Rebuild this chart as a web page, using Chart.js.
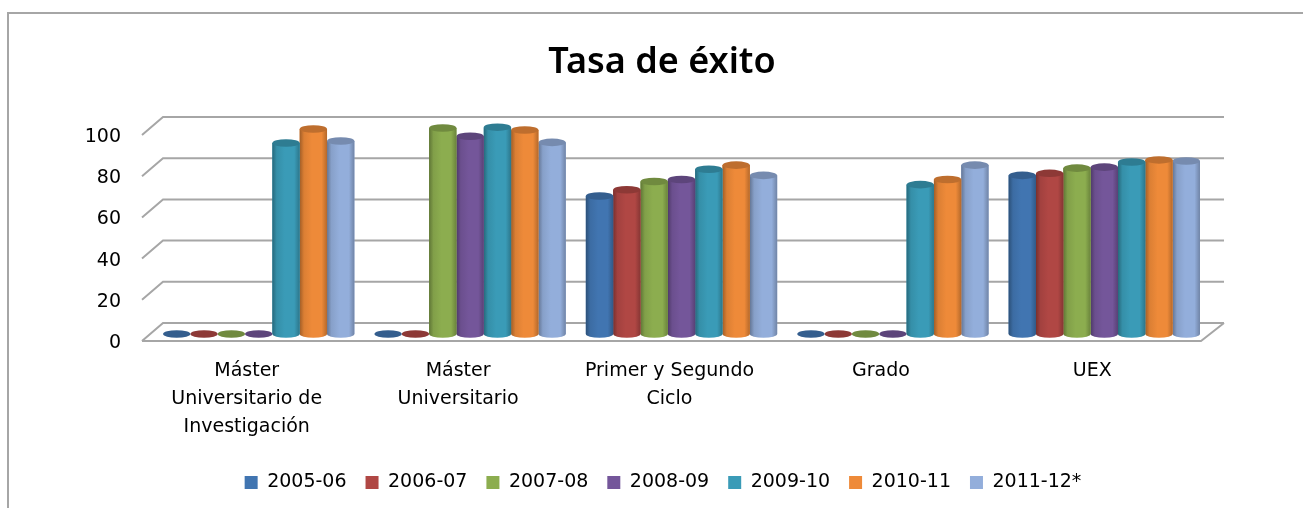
<!DOCTYPE html>
<html><head><meta charset="utf-8">
<script src="https://cdn.jsdelivr.net/npm/chart.js@4"></script>
<style>html,body{margin:0;padding:0;background:#fff}#w{width:1303px;height:508px;position:relative}</style>
</head><body><div id="w"><canvas id="c" width="1303" height="508"></canvas></div>
<script>
const categories = [["Máster","Universitario de","Investigación"],["Máster","Universitario"],["Primer y Segundo","Ciclo"],"Grado","UEX"];
const seriesNames = ["2005-06","2006-07","2007-08","2008-09","2009-10","2010-11","2011-12*"];
const s200506 = [0,0,67,0,77];
const s200607 = [0,0,70,0,78];
const s200708 = [0,100,74,0,80.5];
const s200809 = [0,96,75,0,81];
const s200910 = [92.7,100.4,80,72.5,83.5];
const s201011 = [99.5,99,82,75,84.5];
const s201112 = [93.7,93,77,82,84];
const seriesValues = [s200506,s200607,s200708,s200809,s200910,s201011,s201112];
const colors = ["#4175b1","#b04744","#8cad4f","#74569a","#3a9bb7","#ee8a39","#93aedb"];
const yTicks = [0,20,40,60,80,100];
const font = "'DejaVu Sans'";
const titleFont = "'Noto Sans'";

function shade(hex,f){
  const n=parseInt(hex.slice(1),16),r=n>>16,g=(n>>8)&255,b=n&255;
  const m=v=>Math.round(f<1?v*f:v+(255-v)*(f-1));
  return `rgb(${m(r)},${m(g)},${m(b)})`;
}
const depth = {dy:11};
const frame = {
  id:'frame',
  afterLayout(chart){
    const lg=chart.legend,h=lg.height,t=chart.titleBlock;
    lg.left+=58;lg.right+=58;
    lg.top=478-h/2;lg.bottom=lg.top+h;
    t.left+=57;t.right+=57;
  },
  beforeDatasetsDraw(chart){
    const {ctx,scales:{y}}=chart;
    const L=163,R=1224,FL=142,FR=1201;
    ctx.save();
    ctx.strokeStyle='#a6a6a6';ctx.lineWidth=2;
    ctx.beginPath();ctx.moveTo(8,508);ctx.lineTo(8,13);ctx.lineTo(1303,13);ctx.stroke();
    yTicks.forEach(v=>{
      const py=y.getPixelForValue(v)-depth.dy;
      ctx.beginPath();ctx.moveTo(FL,py+18);ctx.lineTo(L,py);ctx.lineTo(R,py);ctx.stroke();
    });
    const by=y.getPixelForValue(0)-depth.dy;
    ctx.beginPath();ctx.moveTo(FL,by+18);ctx.lineTo(FR,by+18);ctx.lineTo(R,by);ctx.stroke();
    ctx.restore();
  },
  afterDatasetDraw(chart,args){
    const {ctx}=chart,col=colors[args.index];
    chart.getDatasetMeta(args.index).data.forEach(el=>{
      const w=el.width,l=el.x-w/2,r=el.x+w/2,ry=3.8;
      const g=ctx.createLinearGradient(l,0,r,0);
      g.addColorStop(0,shade(col,.68));g.addColorStop(.16,shade(col,.92));
      g.addColorStop(.45,col);g.addColorStop(.8,col);g.addColorStop(1,shade(col,.76));
      ctx.save();
      if(el.base-el.y>1){
        ctx.fillStyle=g;
        ctx.fillRect(l,el.y,w,el.base-el.y);
        ctx.beginPath();ctx.ellipse(el.x,el.base,w/2,ry,0,0,Math.PI);ctx.fill();
      }
      ctx.fillStyle=shade(col,.8);
      ctx.beginPath();ctx.ellipse(el.x,el.y,w/2,ry,0,0,Math.PI*2);ctx.fill();
      ctx.restore();
    });
  }
};
new Chart(document.getElementById('c'),{
  type:'bar',
  data:{labels:categories,datasets:seriesNames.map((n,i)=>({label:n,data:seriesValues[i],backgroundColor:colors[i],borderWidth:0,barPercentage:1,categoryPercentage:.905}))},
  plugins:[frame],
  options:{
    responsive:false,animation:false,
    layout:{padding:{left:0,right:93,top:41,bottom:0}},
    plugins:{
      tooltip:{enabled:false},
      title:{display:true,text:"Tasa de éxito",color:'#000',font:{family:titleFont,size:36,weight:'600'},padding:{top:0,bottom:43.8}},
      legend:{position:'bottom',labels:{color:'#000',font:{family:font,size:19},boxWidth:13,boxHeight:13,padding:19}}
    },
    scales:{
      x:{grid:{display:false},border:{display:false},
        afterFit(s){s.height=126},
        ticks:{color:'#000',font:{family:font,size:19,lineHeight:1.47},labelOffset:-12,maxRotation:0,autoSkip:false,padding:15}},
      y:{min:0,max:100,grid:{display:false},border:{display:false},
        afterFit(s){s.width=153},
        afterBuildTicks(s){s.ticks=yTicks.map(v=>({value:v}))},
        ticks:{color:'#000',font:{family:font,size:19},labelOffset:9,padding:24}}
    }
  }
});
</script></body></html>
